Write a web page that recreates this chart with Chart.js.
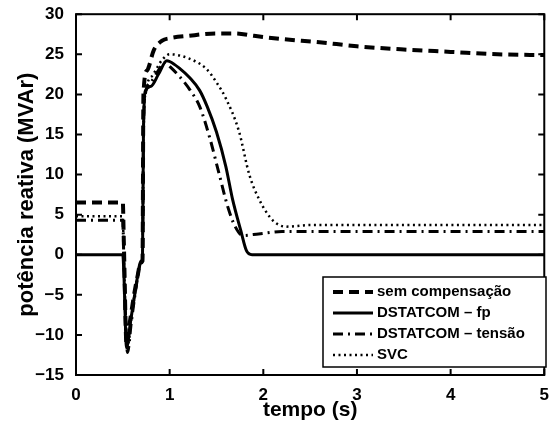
<!DOCTYPE html>
<html>
<head>
<meta charset="utf-8">
<script src="https://cdn.jsdelivr.net/npm/chart.js@4.4.1/dist/chart.umd.min.js"></script>
<style>
  html, body { margin: 0; padding: 0; background: #fff; }
  #wrap { width: 551px; height: 427px; }
</style>
</head>
<body>
<div id="wrap"><canvas id="myChart"></canvas></div>
<script>
// time (s) and reactive power (MVAr)
const tSem = [0, 0.5, 0.51, 0.54, 0.58, 0.62, 0.66, 0.69, 0.71, 0.72, 0.76, 0.83, 0.92, 1.0, 1.2, 1.5, 1.7, 1.9, 2.2, 2.6, 3.0, 3.5, 4.0, 4.5, 5.0];
const qSem = [6.5, 6.5, 2, -11.2, -8, -5, -2.5, -1, -0.8, 20, 23, 25.5, 26.7, 27.0, 27.3, 27.6, 27.6, 27.3, 26.9, 26.5, 26.0, 25.6, 25.3, 25.0, 24.9];

const tFp = [0, 0.5, 0.51, 0.54, 0.58, 0.62, 0.66, 0.69, 0.71, 0.72, 0.74, 0.8, 0.88, 0.97, 1.0, 1.1, 1.22, 1.32, 1.4, 1.5, 1.6, 1.67, 1.76, 1.82, 1.88, 5.0];
const qFp = [0, 0, -2, -11.6, -8.5, -5.5, -2.5, -0.8, -0.6, 15, 20.4, 21, 22.5, 24.2, 24.1, 23.3, 22, 20.5, 18.5, 15.3, 11, 7, 3, 0.5, 0, 0];

const tTen = [0, 0.5, 0.51, 0.55, 0.59, 0.63, 0.67, 0.69, 0.71, 0.72, 0.74, 0.8, 0.88, 0.95, 1.0, 1.1, 1.22, 1.32, 1.43, 1.53, 1.62, 1.7, 1.78, 1.95, 2.2, 5.0];
const qTen = [4.3, 4.3, 0, -12.2, -8.5, -5, -2, -1, -0.6, 15, 20, 21.5, 23, 24, 23.5, 22.3, 20.5, 18.5, 14.5, 10, 6, 3.5, 2.4, 2.6, 2.9, 2.9];

const tSvc = [0, 0.5, 0.51, 0.55, 0.59, 0.63, 0.67, 0.69, 0.71, 0.72, 0.74, 0.82, 0.92, 1.0, 1.2, 1.39, 1.5, 1.6, 1.74, 1.85, 1.96, 2.1, 2.24, 2.5, 5.0];
const qSvc = [4.8, 4.8, 0, -11.5, -8, -4.5, -2, -1, -0.6, 15, 20, 22.4, 24.3, 25, 24.5, 23.2, 21.5, 19.5, 15.4, 10, 6.8, 4.3, 3.5, 3.7, 3.7];

const xTicks = [0, 1, 2, 3, 4, 5];
const yTicks = [-15, -10, -5, 0, 5, 10, 15, 20, 25, 30];
const labels = ['sem compensação', 'DSTATCOM \u2013 fp', 'DSTATCOM \u2013 tensão', 'SVC'];

const pts = (t, q) => t.map((v, i) => ({ x: v, y: q[i] }));
const FONT = '"Liberation Sans", Arial, sans-serif';

// MATLAB-like box with inward ticks
const boxPlugin = {
  id: 'box',
  afterDraw(chart) {
    const { ctx, chartArea: a, scales } = chart;
    ctx.save();
    ctx.strokeStyle = '#000';
    ctx.lineWidth = 2;
    ctx.strokeRect(a.left, a.top, a.right - a.left, a.bottom - a.top);
    ctx.beginPath();
    xTicks.forEach(v => {
      const px = scales.x.getPixelForValue(v);
      ctx.moveTo(px, a.bottom); ctx.lineTo(px, a.bottom - 6);
      ctx.moveTo(px, a.top); ctx.lineTo(px, a.top + 6);
    });
    yTicks.forEach(v => {
      const py = scales.y.getPixelForValue(v);
      ctx.moveTo(a.left, py); ctx.lineTo(a.left + 6, py);
      ctx.moveTo(a.right, py); ctx.lineTo(a.right - 6, py);
    });
    ctx.stroke();

    // legend box
    const lx = 323, ly = 277, lw = 223, lh = 90;
    ctx.fillStyle = '#fff';
    ctx.fillRect(lx, ly, lw, lh);
    ctx.lineWidth = 1.5;
    ctx.strokeRect(lx, ly, lw, lh);
    ctx.font = 'bold 15px ' + FONT;
    ctx.textBaseline = 'middle';
    chart.data.datasets.forEach((ds, i) => {
      const y = 292 + i * 21;
      ctx.save();
      ctx.strokeStyle = '#000';
      ctx.lineWidth = ds.borderWidth;
      ctx.setLineDash(ds.borderDash || []);
      ctx.beginPath();
      ctx.moveTo(333, y); ctx.lineTo(373, y);
      ctx.stroke();
      ctx.restore();
      ctx.fillStyle = '#000';
      ctx.fillText(ds.label, 377, y);
    });
    ctx.restore();
  }
};

const ctx = document.getElementById('myChart').getContext('2d');
new Chart(ctx, {
  type: 'line',
  data: {
    datasets: [
      { label: labels[0], data: pts(tSem, qSem), borderColor: '#000', borderWidth: 4, borderDash: [10, 6] },
      { label: labels[1], data: pts(tFp, qFp), borderColor: '#000', borderWidth: 3 },
      { label: labels[2], data: pts(tTen, qTen), borderColor: '#000', borderWidth: 3, borderDash: [10, 5, 2, 5] },
      { label: labels[3], data: pts(tSvc, qSvc), borderColor: '#000', borderWidth: 2.5, borderDash: [2, 3.5] }
    ]
  },
  options: {
    responsive: true,
    maintainAspectRatio: false,
    animation: false,
    elements: { point: { radius: 0 }, line: { cubicInterpolationMode: 'monotone', fill: false } },
    layout: { padding: { top: 12, right: 5, left: 0, bottom: 0 } },
    plugins: { legend: { display: false }, tooltip: { enabled: false } },
    scales: {
      x: {
        type: 'linear', min: 0, max: 5,
        afterBuildTicks: s => { s.ticks = xTicks.map(v => ({ value: v })); },
        afterFit: s => { s.height = 52; },
        grid: { display: false },
        border: { display: false },
        ticks: { color: '#000', font: { family: FONT, size: 17, weight: 'bold' }, padding: 2 },
        title: { display: true, text: 'tempo (s)', color: '#000', font: { family: FONT, size: 21, weight: 'bold' }, padding: { top: 3 } }
      },
      y: {
        min: -15, max: 30,
        afterBuildTicks: s => { s.ticks = yTicks.map(v => ({ value: v })); },
        afterFit: s => { s.width = 76; },
        grid: { display: false },
        border: { display: false },
        ticks: {
          color: '#000', font: { family: FONT, size: 17, weight: 'bold' }, padding: 4,
          callback: v => String(v).replace('-', '\u2212')
        },
        title: { display: true, text: 'potência reativa (MVAr)', color: '#000', font: { family: FONT, size: 22, weight: 'bold' }, padding: { top: 14, bottom: 2 } }
      }
    }
  },
  plugins: [boxPlugin]
});
</script>
</body>
</html>
